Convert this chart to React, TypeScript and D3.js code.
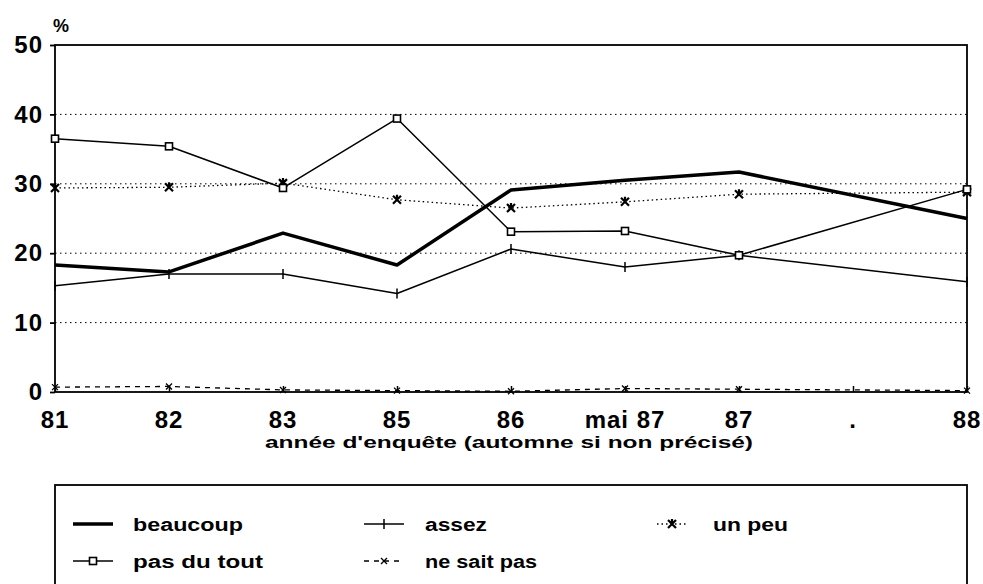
import React, { useEffect, useRef } from "react";
import * as d3 from "d3";

const categories = ["81", "82", "83", "85", "86", "mai 87", "87", ".", "88"];
const yTicks = [0, 10, 20, 30, 40, 50];

// null = pas d'enquête, la ligne passe par-dessus
const beaucoup = [18.3, 17.3, 22.9, 18.3, 29.1, 30.5, 31.7, null, 25.0];
const assez = [15.3, 17.0, 17.0, 14.2, 20.6, 18.0, 19.7, null, 15.9];
const unPeu = [29.4, 29.5, 30.1, 27.7, 26.5, 27.4, 28.5, null, 28.8];
const pasDuTout = [36.5, 35.4, 29.4, 39.4, 23.1, 23.2, 19.7, null, 29.2];
const neSaitPas = [0.7, 0.8, 0.3, 0.2, 0.1, 0.5, 0.4, null, 0.2];

const FONT = "'Liberation Sans', Arial, sans-serif";

const series = [
  { name: "beaucoup", values: beaucoup, width: 3.5, dash: null, marker: "none" },
  { name: "assez", values: assez, width: 1.5, dash: null, marker: "plus" },
  { name: "un peu", values: unPeu, width: 1.3, dash: "1.5,3", marker: "star" },
  { name: "pas du tout", values: pasDuTout, width: 1.5, dash: null, marker: "square" },
  { name: "ne sait pas", values: neSaitPas, width: 1.3, dash: "5,5", marker: "cross" },
];

const drawMarker = (g, type, x, y) => {
  if (type === "plus") {
    g.append("line").attr("x1", x).attr("x2", x).attr("y1", y - 5).attr("y2", y + 5)
      .attr("stroke", "#000").attr("stroke-width", 1.5);
  } else if (type === "star") {
    g.append("path").attr("d", `M${x - 4},${y - 4}L${x + 4},${y + 4}M${x - 4},${y + 4}L${x + 4},${y - 4}M${x},${y - 5}L${x},${y + 1}`)
      .attr("stroke", "#000").attr("stroke-width", 2.2);
  } else if (type === "square") {
    g.append("rect").attr("x", x - 3.5).attr("y", y - 3.5).attr("width", 7).attr("height", 7)
      .attr("fill", "#fff").attr("stroke", "#000").attr("stroke-width", 1.6);
  } else if (type === "cross") {
    g.append("path").attr("d", `M${x - 3},${y - 3}L${x + 3},${y + 3}M${x - 3},${y + 3}L${x + 3},${y - 3}`)
      .attr("stroke", "#000").attr("stroke-width", 1.3);
  }
};

const App = () => {
  const ref = useRef(null);

  useEffect(() => {
    const svg = d3.select(ref.current);
    svg.selectAll("*").remove();

    const x = d3.scalePoint().domain(categories).range([55, 967]);
    const y = d3.scaleLinear().domain([0, 50]).range([392, 45]);

    // grille pointillée
    svg.append("g").selectAll("line")
      .data(yTicks.filter((t) => t > 0 && t < 50))
      .join("line")
      .attr("x1", 55).attr("x2", 967)
      .attr("y1", (d) => y(d)).attr("y2", (d) => y(d))
      .attr("stroke", "#000").attr("stroke-width", 1)
      .attr("stroke-dasharray", "1.5,3.5");

    // cadre
    svg.append("rect")
      .attr("x", 55).attr("y", y(50))
      .attr("width", 967 - 55).attr("height", y(0) - y(50))
      .attr("fill", "none").attr("stroke", "#000").attr("stroke-width", 1.8);

    // axe Y
    const yAxis = svg.append("g").attr("transform", "translate(55,0)")
      .call(d3.axisLeft(y).tickValues(yTicks).tickSize(5).tickPadding(7).tickFormat(d3.format("d")));
    yAxis.select(".domain").remove();
    yAxis.selectAll("line").attr("stroke", "#000").attr("stroke-width", 1.8);
    yAxis.selectAll("text")
      .attr("font-family", FONT).attr("font-weight", "bold").attr("font-size", 24)
      .attr("letter-spacing", 1)
      .attr("fill", "#000");

    svg.append("text").attr("x", 53).attr("y", 32).text("%")
      .attr("font-family", FONT).attr("font-weight", "bold").attr("font-size", 18);

    // axe X
    const xAxis = svg.append("g").attr("transform", `translate(0,${y(0)})`)
      .call(d3.axisTop(x).tickSize(6).tickFormat(() => ""));
    xAxis.select(".domain").remove();
    xAxis.selectAll("line").attr("stroke", "#000").attr("stroke-width", 1.5);

    svg.append("g").selectAll("text")
      .data(categories)
      .join("text")
      .attr("x", (d) => x(d)).attr("y", 428)
      .attr("text-anchor", "middle")
      .attr("font-family", FONT).attr("font-weight", "bold").attr("font-size", 24)
      .attr("letter-spacing", 1)
      .text((d) => d);

    svg.append("text").attr("x", 265).attr("y", 448)
      .attr("font-family", FONT).attr("font-weight", "bold").attr("font-size", 17)
      .attr("textLength", 488).attr("lengthAdjust", "spacingAndGlyphs")
      .text("année d'enquête (automne si non précisé)");

    // séries
    series.forEach((s) => {
      const pts = categories
        .map((c, i) => ({ c, v: s.values[i] }))
        .filter((d) => d.v != null);
      const line = d3.line().x((d) => x(d.c)).y((d) => y(d.v));
      svg.append("path").datum(pts)
        .attr("d", line)
        .attr("fill", "none").attr("stroke", "#000")
        .attr("stroke-width", s.width)
        .attr("stroke-linejoin", "round")
        .attr("stroke-dasharray", s.dash);
      const mg = svg.append("g");
      pts.forEach((d) => drawMarker(mg, s.marker, x(d.c), y(d.v)));
    });

    // légende
    svg.append("rect")
      .attr("x", 55).attr("y", 485).attr("width", 967 - 55).attr("height", 120)
      .attr("fill", "none").attr("stroke", "#000").attr("stroke-width", 1.8);

    const legendPos = [
      { sx: 73, len: 40, tx: 133, w: 110, y: 524 },
      { sx: 364, len: 40, tx: 425, w: 62, y: 524 },
      { sx: 657, len: 30, tx: 713, w: 75, y: 524 },
      { sx: 73, len: 40, tx: 133, w: 130, y: 561 },
      { sx: 364, len: 40, tx: 425, w: 112, y: 561 },
    ];
    series.forEach((s, i) => {
      const p = legendPos[i];
      const lg = svg.append("g");
      lg.append("line")
        .attr("x1", p.sx).attr("x2", p.sx + p.len)
        .attr("y1", p.y).attr("y2", p.y)
        .attr("stroke", "#000").attr("stroke-width", s.width)
        .attr("stroke-dasharray", s.dash);
      drawMarker(lg, s.marker, p.sx + p.len / 2, p.y);
      lg.append("text").attr("x", p.tx).attr("y", p.y + 7)
        .attr("font-family", FONT).attr("font-weight", "bold").attr("font-size", 18)
        .attr("textLength", p.w).attr("lengthAdjust", "spacingAndGlyphs")
        .text(s.name);
    });
  }, []);

  return (
    <svg
      ref={ref}
      width={983}
      height={584}
      style={{ position: "absolute", left: 0, top: 0, background: "#fff" }}
    />
  );
};

export default App;
